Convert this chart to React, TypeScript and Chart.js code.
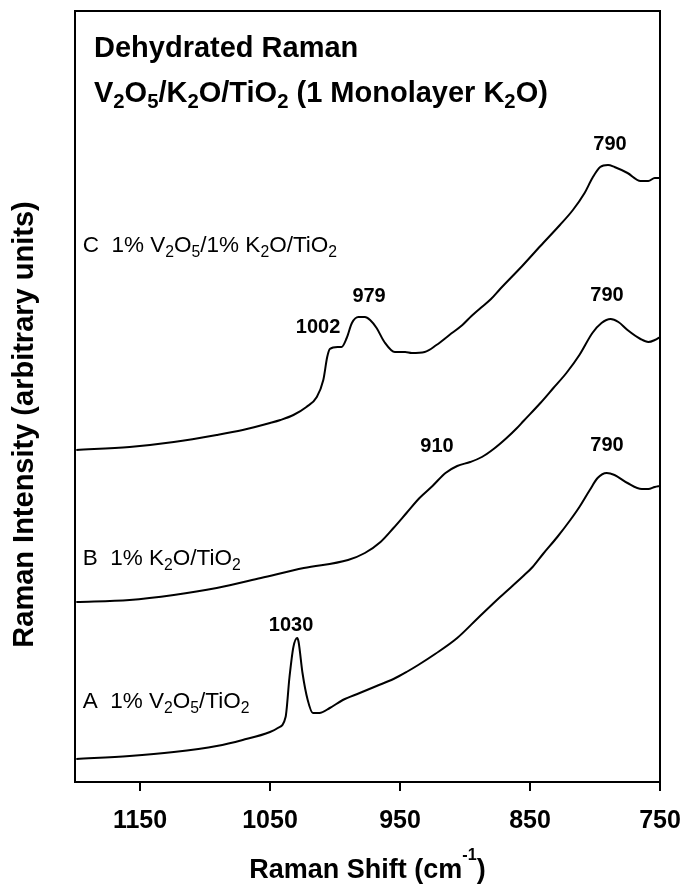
import { useEffect, useRef } from 'react';
import { Chart, registerables } from 'chart.js';

Chart.register(...registerables);

// ---- axis values ----
const X_TICKS = [1150, 1050, 950, 850, 750];
const X_RANGE = [750, 1200];
const Y_RANGE = [0, 771];

// ---- spectrum A: 1% V2O5/TiO2 ----
const shiftA = [1199, 1158, 1124, 1091, 1071, 1050, 1044, 1038, 1035, 1032, 1029, 1028, 1025, 1021, 1017, 1012, 1004, 994, 981, 968, 955, 945, 936, 923, 906, 890, 873, 856, 848, 840, 829, 819, 812, 804, 798, 791, 785, 775, 764, 759, 754, 750];
const intensityA = [23, 26, 30, 36, 42, 50, 54, 65, 105, 135, 144, 140, 109, 82, 69, 69, 74, 82, 89, 96, 103, 110, 117, 128, 144, 164, 185, 205, 215, 228, 245, 262, 275, 292, 304, 309, 307, 299, 293, 293, 295, 296];

// ---- spectrum B: 1% K2O/TiO2 ----
const shiftB = [1199, 1158, 1124, 1091, 1057, 1024, 990, 977, 965, 955, 945, 935, 925, 915, 906, 896, 887, 878, 868, 860, 855, 842, 832, 822, 812, 802, 795, 788, 782, 775, 765, 759, 754, 750];
const intensityB = [180, 182, 187, 194, 204, 214, 222, 229, 240, 254, 269, 284, 296, 309, 316, 320, 325, 333, 344, 354, 361, 379, 394, 409, 427, 449, 459, 463, 460, 452, 443, 440, 442, 445];

// ---- spectrum C: 1% V2O5/1% K2O/TiO2 ----
const shiftC = [1199, 1158, 1124, 1091, 1071, 1050, 1042, 1032, 1022, 1014, 1009, 1006, 1004, 998, 995, 991, 987, 982, 977, 973, 968, 962, 954, 946, 941, 931, 922, 912, 902, 895, 888, 880, 873, 856, 842, 827, 817, 808, 802, 796, 790, 785, 775, 765, 759, 754, 750];
const intensityC = [332, 335, 340, 347, 352, 359, 362, 367, 375, 385, 402, 425, 433, 435, 435, 444, 459, 465, 465, 462, 454, 440, 430, 430, 429, 430, 437, 447, 457, 466, 474, 483, 493, 516, 536, 557, 572, 589, 604, 615, 617, 615, 609, 601, 601, 604, 604];

// ---- text ----
const TITLE_LINES = ['Dehydrated Raman', 'V_2O_5/K_2O/TiO_2 (1 Monolayer K_2O)'];
const X_TITLE = 'Raman Shift (cm^{-1})';
const Y_TITLE = 'Raman Intensity (arbitrary units)';
const SERIES_NAMES = ['A  1% V_2O_5/TiO_2', 'B  1% K_2O/TiO_2', 'C  1% V_2O_5/1% K_2O/TiO_2'];
const SERIES_NAME_SHIFT = [1194, 1194, 1194];
const SERIES_NAME_LEVEL = [74, 217, 530];
const PEAK_LABELS = ['1030', '910', '790', '1002', '979', '790', '790'];
const PEAK_SHIFT = [1033.8, 921.5, 790.8, 1013, 973.8, 790.8, 788.5];
const PEAK_LEVEL = [157, 336, 337, 455, 486, 487, 637.5];

const FONT = '"Liberation Sans", Arial, Helvetica, sans-serif';

type Part = { t: string; k: number };
function parseRich(s: string): Part[] {
  const parts: Part[] = [];
  let buf = '';
  let i = 0;
  while (i < s.length) {
    const c = s[i];
    if (c === '_' || c === '^') {
      if (buf) { parts.push({ t: buf, k: 0 }); buf = ''; }
      let t = '';
      if (s[i + 1] === '{') {
        const j = s.indexOf('}', i + 2);
        t = s.slice(i + 2, j);
        i = j + 1;
      } else {
        t = s[i + 1];
        i += 2;
      }
      parts.push({ t, k: c === '_' ? -1 : 1 });
    } else {
      buf += c;
      i++;
    }
  }
  if (buf) parts.push({ t: buf, k: 0 });
  return parts;
}

function drawRich(ctx: CanvasRenderingContext2D, s: string, x: number, y: number, size: number, weight: string, align: 'left' | 'center') {
  const parts = parseRich(s);
  const fontFor = (p: Part) => `${weight} ${p.k === -1 ? size * 0.7 : p.k === 1 ? size * 0.6 : size}px ${FONT}`;
  let total = 0;
  const widths = parts.map((p) => {
    ctx.font = fontFor(p);
    const w = ctx.measureText(p.t).width;
    total += w;
    return w;
  });
  let cx = align === 'center' ? x - total / 2 : x;
  ctx.textAlign = 'left';
  ctx.textBaseline = 'alphabetic';
  parts.forEach((p, i) => {
    ctx.font = fontFor(p);
    const dy = p.k === -1 ? size * 0.2 : p.k === 1 ? -size * 0.65 : 0;
    ctx.fillText(p.t, cx, y + dy);
    cx += widths[i];
  });
}

const decorations = {
  id: 'decorations',
  afterDraw(chart: any) {
    const { ctx, chartArea, scales } = chart;
    const { left, right, top, bottom } = chartArea;
    const xs = scales.x;
    const ys = scales.y;
    ctx.save();
    // frame
    ctx.strokeStyle = '#000';
    ctx.lineWidth = 2;
    ctx.strokeRect(left, top, right - left, bottom - top);
    ctx.fillStyle = '#000';
    // titles inside plot
    drawRich(ctx, TITLE_LINES[0], left + 19, top + 46, 29, 'bold', 'left');
    drawRich(ctx, TITLE_LINES[1], left + 19, top + 91, 29, 'bold', 'left');
    // series names
    SERIES_NAMES.forEach((name, i) => {
      drawRich(ctx, name, xs.getPixelForValue(SERIES_NAME_SHIFT[i]), ys.getPixelForValue(SERIES_NAME_LEVEL[i]), 22.5, 'normal', 'left');
    });
    // peak labels
    ctx.font = `bold 20px ${FONT}`;
    ctx.textAlign = 'center';
    ctx.textBaseline = 'middle';
    PEAK_LABELS.forEach((lab, i) => {
      ctx.fillText(lab, xs.getPixelForValue(PEAK_SHIFT[i]), ys.getPixelForValue(PEAK_LEVEL[i]));
    });
    // x title
    drawRich(ctx, X_TITLE, (left + right) / 2, chart.height - 6, 27, 'bold', 'center');
    // y title
    ctx.translate(33, (top + bottom) / 2 + 28);
    ctx.rotate(-Math.PI / 2);
    ctx.font = `bold 29px ${FONT}`;
    ctx.textAlign = 'center';
    ctx.textBaseline = 'alphabetic';
    ctx.fillText(Y_TITLE, 0, 0);
    ctx.restore();
  },
};

function toPoints(xs: number[], ys: number[]) {
  return xs.map((x, i) => ({ x, y: ys[i] }));
}

export default function App() {
  const ref = useRef<HTMLCanvasElement | null>(null);
  useEffect(() => {
    document.body.style.margin = '0';
    const canvas = ref.current;
    if (!canvas) return;
    const line = {
      borderColor: '#000',
      borderWidth: 2,
      pointRadius: 0,
      fill: false,
      cubicInterpolationMode: 'monotone' as const,
    };
    const chart = new Chart(canvas, {
      type: 'line',
      data: {
        datasets: [
          { label: 'A', data: toPoints(shiftA, intensityA), ...line },
          { label: 'B', data: toPoints(shiftB, intensityB), ...line },
          { label: 'C', data: toPoints(shiftC, intensityC), ...line },
        ],
      },
      options: {
        animation: false,
        responsive: false,
        layout: { padding: { top: 11, right: 22, bottom: 0, left: 0 } },
        plugins: { legend: { display: false }, tooltip: { enabled: false }, title: { display: false } },
        scales: {
          x: {
            type: 'linear',
            min: X_RANGE[0],
            max: X_RANGE[1],
            reverse: true,
            afterBuildTicks: (s: any) => { s.ticks = X_TICKS.map((v) => ({ value: v })); },
            afterFit: (s: any) => { s.height = 102; s.paddingLeft = 0; s.paddingRight = 0; },
            grid: { display: true, drawOnChartArea: false, drawTicks: true, tickLength: 9, color: '#000', lineWidth: 2 },
            border: { display: false },
            ticks: {
              color: '#000',
              padding: 15,
              maxRotation: 0,
              autoSkip: false,
              callback: (v: any) => String(v),
              font: { family: FONT, size: 25, weight: 'bold', lineHeight: 1.2 },
            },
          },
          y: {
            type: 'linear',
            min: Y_RANGE[0],
            max: Y_RANGE[1],
            afterFit: (s: any) => { s.width = 75; s.paddingTop = 0; s.paddingBottom = 0; },
            grid: { display: false },
            border: { display: false },
            ticks: { display: false },
          },
        },
      },
      plugins: [decorations],
    });
    return () => chart.destroy();
  }, []);
  return (
    <div style={{ width: 682, height: 884, background: '#fff' }}>
      <canvas ref={ref} width={682} height={884} style={{ display: 'block', width: 682, height: 884 }} />
    </div>
  );
}
